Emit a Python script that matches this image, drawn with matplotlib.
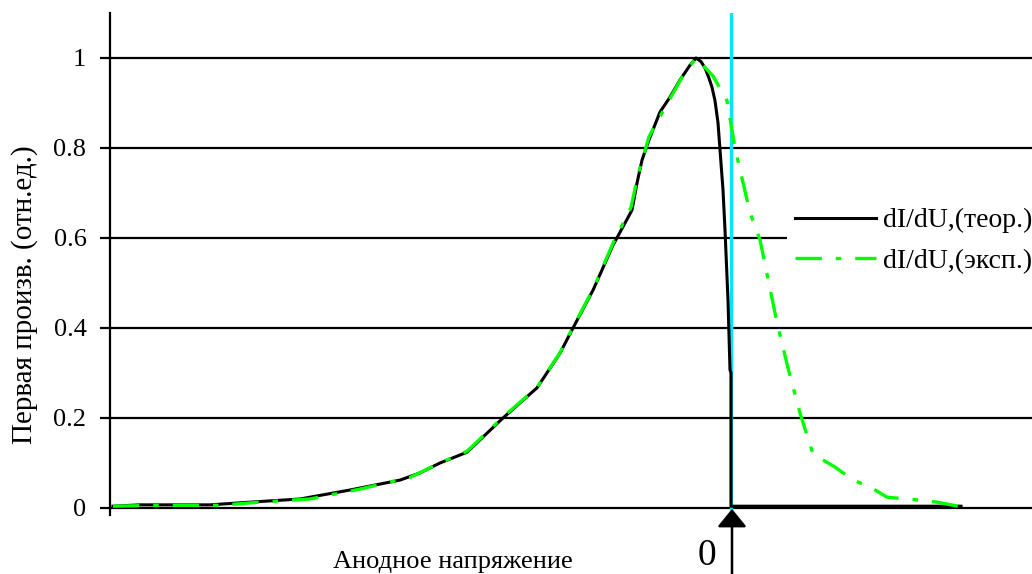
import matplotlib
matplotlib.use("Agg")
import matplotlib.pyplot as plt

plt.rcParams['font.family'] = ['Liberation Serif', 'DejaVu Serif']
plt.rcParams['lines.scale_dashes'] = False

# anode voltage (relative units, 0 = cyan marker) and first derivative
u_theor = [-6.18, -5.91, -5.21, -4.81, -4.31, -3.81, -3.31, -3.11, -2.91, -2.64,
           -2.28, -1.94, -1.71, -1.58, -1.38, -1.18, -0.99, -0.94, -0.89, -0.82,
           -0.71, -0.61, -0.51, -0.41, -0.35, -0.30, -0.26, -0.22, -0.19, -0.16,
           -0.13, -0.11, -0.08, -0.06, -0.03, -0.01, 0.0, 0.0, 2.30]
d_theor = [0.004, 0.007, 0.007, 0.013, 0.020, 0.040, 0.062, 0.078, 0.100, 0.124,
           0.200, 0.267, 0.344, 0.400, 0.484, 0.584, 0.662, 0.722, 0.773, 0.818,
           0.880, 0.913, 0.951, 0.984, 1.000, 0.992, 0.978, 0.955, 0.935, 0.905,
           0.856, 0.796, 0.707, 0.618, 0.462, 0.307, 0.300, 0.004, 0.004]

u_exp = [-6.18, -5.71, -5.11, -4.71, -4.21, -3.71, -3.21, -2.91, -2.64, -2.28,
         -1.94, -1.71, -1.58, -1.38, -1.18, -1.00, -0.93, -0.82, -0.66, -0.47,
         -0.35, -0.18, -0.04, 0.04, 0.19, 0.29, 0.46, 0.57, 0.69, 0.82,
         1.04, 1.22, 1.39, 1.56, 1.86, 2.06, 2.32]
d_exp = [0.004, 0.006, 0.006, 0.013, 0.020, 0.042, 0.068, 0.100, 0.126, 0.202,
         0.268, 0.345, 0.402, 0.486, 0.588, 0.668, 0.740, 0.825, 0.890, 0.965,
         1.000, 0.960, 0.905, 0.800, 0.656, 0.596, 0.412, 0.311, 0.211, 0.120,
         0.091, 0.062, 0.047, 0.024, 0.018, 0.013, 0.002]

yticks = [0, 0.2, 0.4, 0.6, 0.8, 1.0]
ytick_labels = ['0', '0.2', '0.4', '0.6', '0.8', '1']

fig = plt.figure(figsize=(10.32, 5.74), dpi=100)
ax = fig.add_axes([110 / 1032, 59 / 574, 1 - 110 / 1032, 502 / 574])
ax.set_xlim(-6.21, 3.01)
ax.set_ylim(-7 / 450, 1.1)

for y in yticks:
    ax.axhline(y, color='black', lw=1.6, zorder=1)

ax.plot([0, 0], [0, 1.1], color='#00e5ff', lw=2.4, zorder=2)
ax.plot(u_theor, d_theor, color='black', lw=2.2, zorder=3, label='dI/dU,(теор.)')
ax.plot(u_exp, d_exp, color='#00ff00', lw=2.4, dashes=(19, 10, 4, 10), zorder=4,
        label='dI/dU,(эксп.)')

for s in ['top', 'right', 'bottom']:
    ax.spines[s].set_visible(False)
ax.spines['left'].set_linewidth(1.6)
ax.set_xticks([])
ax.set_yticks(yticks)
ax.set_yticklabels(ytick_labels, fontsize=19)
ax.tick_params(axis='y', direction='out', length=7, width=1.6, pad=10)

ax.annotate('', xy=(0.01, -0.002), xytext=(0.01, -0.17),
            arrowprops=dict(arrowstyle='-|>,head_length=0.55,head_width=0.45',
                            mutation_scale=20, color='black', lw=1.8,
                            shrinkA=0, shrinkB=0),
            annotation_clip=False)

fig.text(707 / 1032, 1 - 556 / 574, '0', fontsize=27, ha='center', va='center')
fig.text(453 / 1032, 1 - 562 / 574, 'Анодное напряжение', fontsize=19,
         ha='center', va='center')
fig.text(25 / 1032, 1 - 295 / 574, 'Первая произв. (отн.ед.)', fontsize=21,
         rotation=90, ha='center', va='center')

leg = ax.legend(loc='center left', bbox_to_anchor=(787 / 1032, 1 - 241 / 574),
                bbox_transform=fig.transFigure, fontsize=20, frameon=True,
                fancybox=False, edgecolor='none', facecolor='white', framealpha=1,
                borderaxespad=0, borderpad=0.3, handlelength=2.9,
                handletextpad=0.25, labelspacing=0.55)

fig.savefig('out.png', dpi=100)
